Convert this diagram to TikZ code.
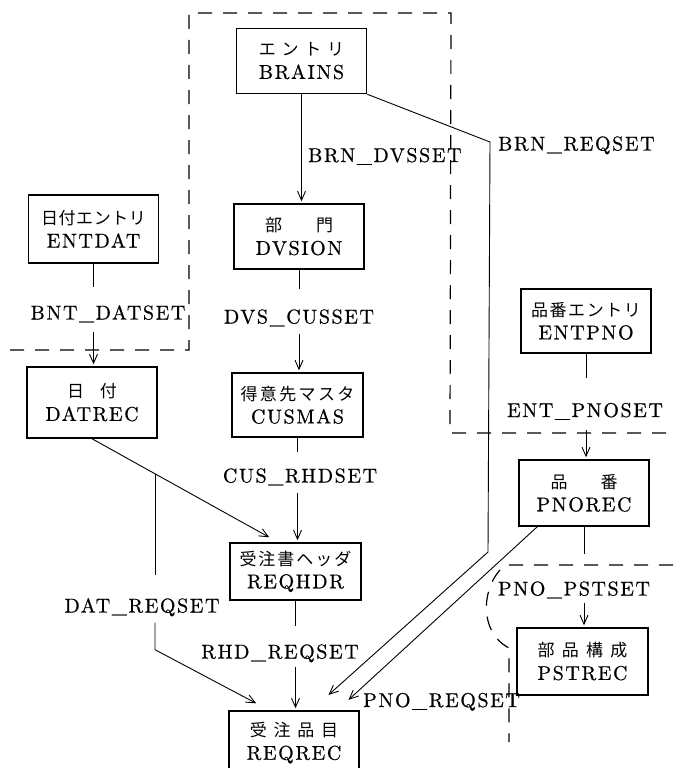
\documentclass[tikz,border=0pt]{standalone}
\usepackage{fontspec}
\usetikzlibrary{arrows.meta,calc}
\newfontfamily\jp{Noto Sans CJK JP}
\newfontfamily\lat{lmroman10-regular.otf}[LetterSpace=8,FakeBold=0.6]
\newcommand\jtext[1]{{\jp\fontsize{17}{20}\selectfont #1}}

\begin{document}
\begin{tikzpicture}[x=1pt,y=-1pt,
  box/.style={draw, line width=1.5pt, minimum width=130pt, minimum height=65pt,
    inner sep=0pt, align=center, font=\lat\fontsize{20}{23}\selectfont},
  lbl/.style={inner sep=0pt, text height=14pt, text depth=0pt,
    font=\lat\fontsize{20}{23}\selectfont},
  link/.style={line width=0.9pt},
  flow/.style={link, -{Straight Barb[length=9pt,width=8pt]}, shorten >=2pt},
  zone/.style={line width=1.2pt, dash pattern=on 14pt off 11pt}]

\useasboundingbox (0,0) rectangle (673,768);
\clip (0,0) rectangle (673,768);

% record boxes
\node[box] (brains) at (301.5,61)  {\jtext{エ\hspace{5.7pt}ン\hspace{5.7pt}ト\hspace{5.7pt}リ}\\BRAINS};
\node[box, minimum height=68pt] (entdat) at (93.5,229) {\jtext{日\hspace{0.6pt}付\hspace{0.6pt}エ\hspace{0.6pt}ン\hspace{0.6pt}ト\hspace{0.6pt}リ}\\ENTDAT};
\node[box] (dvsion) at (299,236.5) {\jtext{部\hspace{34pt}門}\\DVSION};
\node[box, minimum width=131pt, minimum height=64pt] (cusmas) at (297.5,405) {\jtext{得\hspace{2.4pt}意\hspace{2.4pt}先\hspace{2.4pt}マ\hspace{2.4pt}ス\hspace{2.4pt}タ}\\CUSMAS};
\node[box, minimum height=71pt] (datrec) at (92,402.5) {\jtext{日\hspace{16pt}付}\\DATREC};
\node[box, minimum height=64pt] (entpno) at (586,321) {\jtext{品\hspace{1.6pt}番\hspace{1.6pt}エ\hspace{1.6pt}ン\hspace{1.6pt}ト\hspace{1.6pt}リ}\\ENTPNO};
\node[box, minimum height=66pt] (pnorec) at (584,493) {\jtext{品\hspace{33pt}番}\\PNOREC};
\node[box, minimum width=131pt, minimum height=67pt] (pstrec) at (582.5,661.5) {\jtext{部\hspace{7.3pt}品\hspace{7.3pt}構\hspace{7.3pt}成}\\PSTREC};
\node[box, minimum width=131pt, minimum height=57pt] (reqhdr) at (295.5,571.5) {\jtext{受\hspace{2pt}注\hspace{2pt}書\hspace{2pt}ヘ\hspace{2pt}ッ\hspace{2pt}ダ}\\REQHDR};
\node[box, minimum height=64pt] (reqrec) at (294,743) {\jtext{受\hspace{6.7pt}注\hspace{6.7pt}品\hspace{6.7pt}目}\\REQREC};

% set names
\node[lbl, anchor=west] (brndvs) at (308,155) {BRN\_DVSSET};
\node[lbl, anchor=west] (brnreq) at (498,143.5) {BRN\_REQSET};
\node[lbl] (bntdat) at (108,312.5) {BNT\_DATSET};
\node[lbl] (dvscus) at (299,316.5) {DVS\_CUSSET};
\node[lbl] (cusrhd) at (300,475.5) {CUS\_RHDSET};
\node[lbl] (rhdreq) at (280,651.5) {RHD\_REQSET};
\node[lbl] (datreq) at (142,605.5) {DAT\_REQSET};
\node[lbl] (entpnoset) at (585,410) {ENT\_PNOSET};
\node[lbl] (pnopst) at (574,588.5) {PNO\_PSTSET};
\node[lbl, anchor=west] (pnoreq) at (363,700) {PNO\_REQSET};

% area boundaries
\draw[zone] (10,350) -- (189,350) -- (189,13) -- (451,13) -- (450,433) -- (673,433);
\draw[zone] (673,565) -- (505,565) .. controls (481,585) and (478,632) .. (509,648) -- (509,742);

% BRAINS -> DVSION
\draw[flow] (brains.south) -- (brains.south |- dvsion.north);

% ENTDAT -> DATREC
\draw[link, shorten >=18pt] (entdat.south) -- (entdat.south |- bntdat.north);
\draw[flow, shorten <=12pt] (entdat.south |- bntdat.south) -- (entdat.south |- datrec.north);

% DVSION -> CUSMAS
\draw[link, shorten >=20pt] (dvsion.south) -- (dvsion.south |- dvscus.north);
\draw[flow, shorten <=10pt] (dvsion.south |- dvscus.south) -- (dvsion.south |- cusmas.north);

% CUSMAS -> REQHDR
\draw[link, shorten >=16pt] (cusmas.south) -- (cusmas.south |- cusrhd.north);
\draw[flow, shorten <=10pt] (cusmas.south |- cusrhd.south) -- (cusmas.south |- reqhdr.north);

% REQHDR -> REQREC
\draw[link, shorten >=18pt] (reqhdr.south) -- (reqhdr.south |- rhdreq.north);
\draw[flow, shorten <=8pt] (reqhdr.south |- rhdreq.south) -- (reqhdr.south |- reqrec.north);

% DATREC -> REQHDR, with the DAT_REQSET branch
\coordinate (hdrin) at ([xshift=-24.5pt,yshift=4pt]reqhdr.north);
\draw[flow] (datrec.south) -- (hdrin);
\path (datrec.south) -- (hdrin) coordinate[pos=0.352] (br);
\draw[link, shorten >=23pt] (br) -- (br |- datreq.north);
\draw[flow, shorten <=10pt] (br |- datreq.south) -- ++(0,37) -- ([xshift=-36pt,yshift=6pt]reqrec.north);

% BRAINS -> REQREC
\coordinate (brnA) at (490,142);
\coordinate (brnB) at (488,552);
\draw[flow] (brains.south east) -- (brnA) -- (brnB) -- ([xshift=33pt,yshift=14pt]reqrec.north);

% PNOREC -> REQREC
\draw[flow] ([xshift=19pt]pnorec.south west) -- ([xshift=53pt,yshift=9pt]reqrec.north);

% ENTPNO -> PNOREC
\draw[link, shorten >=25pt] (entpno.south) -- (entpno.south |- entpnoset.north);
\draw[flow, shorten <=13pt] (entpno.south |- entpnoset.south) -- (entpno.south |- pnorec.north);

% PNOREC -> PSTREC
\draw[link, shorten >=27pt] (pnorec.south) -- (pnorec.south |- pnopst.north);
\draw[flow, shorten <=7pt] (pnorec.south |- pnopst.south) -- (pnorec.south |- pstrec.north);
\end{tikzpicture}
\end{document}
